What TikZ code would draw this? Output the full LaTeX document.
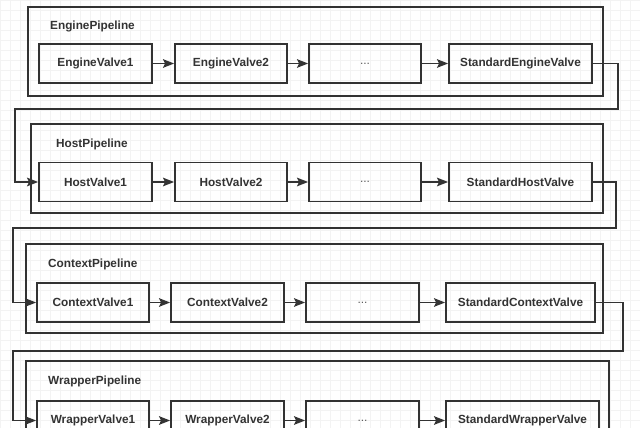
\documentclass[tikz,border=0pt]{standalone}
\usepackage{fontspec}
\setmainfont{Liberation Sans}
\usetikzlibrary{arrows.meta}
\definecolor{ink}{HTML}{333333}
\definecolor{gridc}{HTML}{F3F3F3}
\tikzset{
  valve/.style={draw=ink, line width=1.8pt, minimum height=39, inner sep=0pt,
    text=ink, font=\fontsize{11.8}{14}\selectfont\bfseries},
  dots/.style={font=\fontsize{12}{14}\selectfont, text=ink!80},
  pipe/.style={draw=ink, line width=1.8pt},
  ptitle/.style={anchor=west, inner sep=0pt, text=ink, font=\fontsize{11.8}{14}\selectfont\bfseries},
  flow/.style={draw=ink, line width=1.8pt, -{Stealth[length=11pt,width=8.5pt,inset=2pt]}}
}
\begin{document}
\begin{tikzpicture}[x=1pt,y=-1pt]
  \useasboundingbox (0,0) rectangle (640,428);
  \clip (0,0) rectangle (640,428);
  \fill[white] (0,0) rectangle (640,428);
  \foreach \gx in {0,10,...,640} \draw[gridc, line width=0.6pt] (\gx,0) -- (\gx,428);
  \foreach \gy in {0,10,...,430} \draw[gridc, line width=0.6pt] (0,\gy) -- (640,\gy);
  % pipelines
  \draw[pipe] (28,7) rectangle (603,96);
  \draw[pipe] (31,124) rectangle (603,213);
  \draw[pipe] (26,244) rectangle (603,333);
  \draw[pipe] (26,361) rectangle (609,450);
  \node[ptitle] (tE) at (50,26) {EnginePipeline};
  \node[ptitle] (tH) at (56,144) {HostPipeline};
  \node[ptitle] (tC) at (48,264) {ContextPipeline};
  \node[ptitle] (tW) at (48,381) {WrapperPipeline};
  % valves
  \node[valve, minimum width=113] (ev1) at (95.5,63.5) {EngineValve1};
  \node[valve, minimum width=112] (ev2) at (231,63.5) {EngineValve2};
  \node[valve, dots, minimum width=112] (evd) at (365,63.5) {...};
  \node[valve, minimum width=143] (es) at (520.5,63.5) {StandardEngineValve};
  \node[valve, minimum width=113] (hv1) at (95.5,182) {HostValve1};
  \node[valve, minimum width=112] (hv2) at (231,182) {HostValve2};
  \node[valve, dots, minimum width=112] (hvd) at (365,182) {...};
  \node[valve, minimum width=143] (hs) at (520.5,182) {StandardHostValve};
  \node[valve, minimum width=112] (cv1) at (93,302.5) {ContextValve1};
  \node[valve, minimum width=113] (cv2) at (227.5,302.5) {ContextValve2};
  \node[valve, dots, minimum width=113] (cvd) at (362.5,302.5) {...};
  \node[valve, minimum width=149] (cs) at (520.5,302.5) {StandardContextValve};
  \node[valve, minimum width=112] (wv1) at (93,420.5) {WrapperValve1};
  \node[valve, minimum width=113] (wv2) at (227.5,420.5) {WrapperValve2};
  \node[valve, dots, minimum width=113] (wvd) at (362.5,420.5) {...};
  \node[valve, minimum width=153] (ws) at (522.5,420.5) {StandardWrapperValve};
  % arrows inside each pipeline
  \foreach \p in {e,h,c,w} {
    \draw[flow] (\p v1) -- (\p v2);
    \draw[flow] (\p v2) -- (\p vd);
    \draw[flow] (\p vd) -- (\p s);
  }
  % links between pipelines
  \coordinate (r1) at (618,109);
  \coordinate (l1) at (15,109);
  \coordinate (r2) at (616,228);
  \coordinate (l2) at (13,228);
  \coordinate (r3) at (623,351);
  \coordinate (l3) at (13,351);
  \draw[flow] (es.east) -| (r1) -- (l1) |- (hv1.west);
  \draw[flow] (hs.east) -| (r2) -- (l2) |- (cv1.west);
  \draw[flow] (cs.east) -| (r3) -- (l3) |- (wv1.west);
\end{tikzpicture}
\end{document}
